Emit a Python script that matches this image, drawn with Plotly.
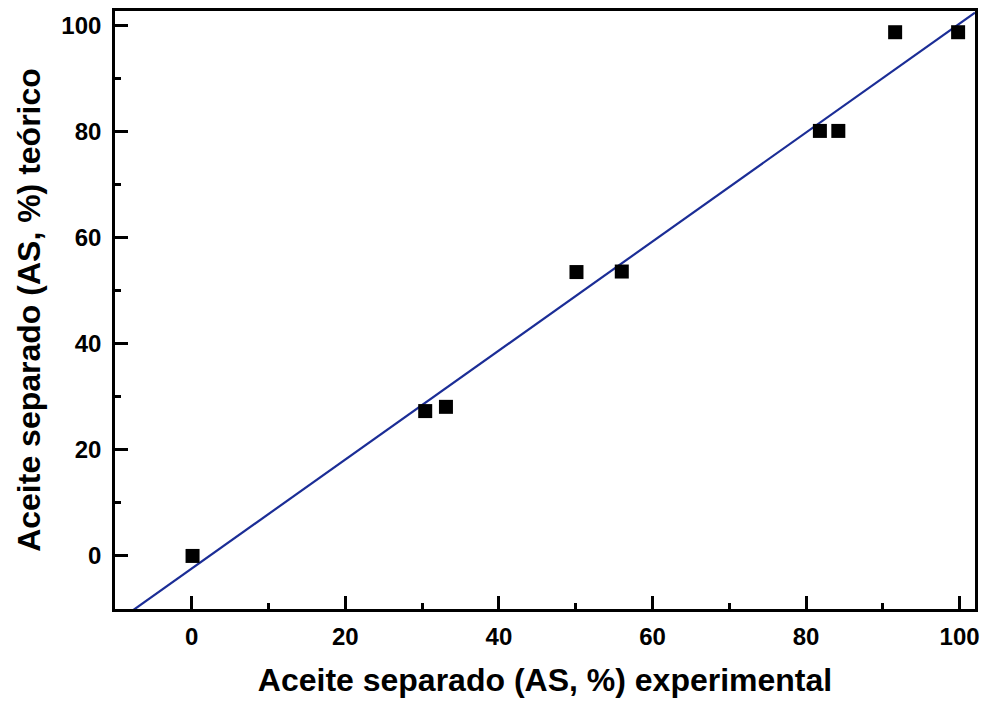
import numpy as np
import plotly.graph_objects as go

# Data
as_experimental = [0.1, 30.4, 33.1, 50.1, 56.0, 81.8, 84.2, 91.6, 99.8]
as_teorico = [0.0, 27.3, 28.1, 53.5, 53.6, 80.1, 80.1, 98.7, 98.7]
x_ticks = [0, 20, 40, 60, 80, 100]
y_ticks = [0, 20, 40, 60, 80, 100]

x_range = [-10, 102]
y_range = [-10, 102.7]

# Linear fit line from the data
slope, intercept = np.polyfit(as_experimental, as_teorico, 1)
fit_x = np.array([x_range[0], x_range[1]])
fit_y = slope * fit_x + intercept

font_family = "Liberation Sans, Arial, sans-serif"

fig = go.Figure()
fig.add_trace(go.Scatter(
    x=fit_x, y=fit_y, mode="lines",
    line=dict(color="#1b2d96", width=2.2),
    showlegend=False, hoverinfo="skip",
))
fig.add_trace(go.Scatter(
    x=as_experimental, y=as_teorico, mode="markers",
    marker=dict(symbol="square", size=14, color="black", line=dict(width=0)),
    showlegend=False,
))

axis_common = dict(
    showline=True, linecolor="black", linewidth=2.7, mirror=True,
    ticks="inside", ticklen=13, tickwidth=2.7, tickcolor="black",
    showgrid=False, zeroline=False,
    tickfont=dict(family=font_family, size=24, color="black", weight="bold"),
    minor=dict(ticks="inside", ticklen=6, tickwidth=2.7, tickcolor="black", dtick=10, showgrid=False),
)

fig.update_xaxes(
    range=x_range, tickvals=x_ticks, ticktext=[str(v) for v in x_ticks],
    title=dict(text="<b>Aceite separado (AS, %) experimental</b>",
               font=dict(family=font_family, size=32, color="black"), standoff=20),
    ticklabelstandoff=4,
    **axis_common,
)
fig.update_yaxes(
    range=y_range, tickvals=y_ticks, ticktext=[str(v) for v in y_ticks],
    title=dict(text="<b>Aceite separado (AS, %) teórico</b>",
               font=dict(family=font_family, size=32, color="black"), standoff=12),
    ticklabelstandoff=6,
    **axis_common,
)

fig.update_layout(
    width=988, height=701,
    margin=dict(l=115, r=9, t=8, b=92),
    paper_bgcolor="white", plot_bgcolor="white",
)

fig.write_html("out.html")
